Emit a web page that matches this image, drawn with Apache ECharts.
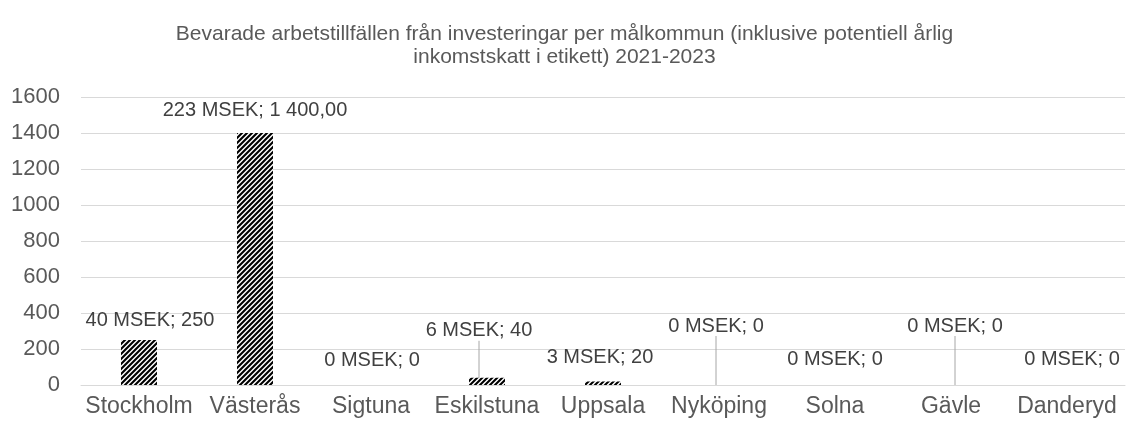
<!DOCTYPE html>
<html>
<head>
<meta charset="utf-8">
<script src="https://cdn.jsdelivr.net/npm/echarts@6/dist/echarts.min.js"></script>
<style>
  html, body { margin: 0; padding: 0; background: #fff; }
  #chart { width: 1129px; height: 426px; }
</style>
</head>
<body>
<div id="chart"></div>
<script>
const categories = ['Stockholm', 'Västerås', 'Sigtuna', 'Eskilstuna', 'Uppsala', 'Nyköping', 'Solna', 'Gävle', 'Danderyd']
const jobs = [250, 1400, 0, 40, 20, 0, 0, 0, 0]
const msek = [40, 223, 0, 6, 3, 0, 0, 0, 0]
const jobLabels = ['250', '1 400,00', '0', '40', '20', '0', '0', '0', '0']

// label nudges (dx, dy) and which labels get a leader line
const labelShift = [[11, -5], [0, -8], [1, -10], [-8, -32], [-3, -9], [-3, -44], [0, -11], [4, -44], [5, -11]]
const withLine = [false, false, false, true, false, true, false, true, false]

function hatch() {
    const c = document.createElement('canvas')
    c.width = 5
    c.height = 5
    const ctx = c.getContext('2d')
    ctx.fillStyle = '#fff'
    ctx.fillRect(0, 0, 5, 5)
    ctx.strokeStyle = '#000'
    ctx.lineWidth = 2.1
    ctx.beginPath()
    ctx.moveTo(-1, 6); ctx.lineTo(6, -1)
    ctx.moveTo(-2, 2); ctx.lineTo(2, -2)
    ctx.moveTo(3, 7); ctx.lineTo(7, 3)
    ctx.stroke()
    return c
}

const chart = echarts.init(document.getElementById('chart'))
const font = 'Liberation Sans, Arial, sans-serif'

chart.setOption({
    animation: false,
    title: {
        text: 'Bevarade arbetstillfällen från investeringar per målkommun (inklusive potentiell årlig\ninkomstskatt i etikett) 2021-2023',
        left: 'center',
        top: 18,
        textStyle: { fontFamily: font, fontSize: 21, fontWeight: 'normal', color: '#595959', lineHeight: 23, align: 'center' },
    },
    grid: { left: 81, right: 4, top: 97, bottom: 41 },
    xAxis: {
        type: 'category',
        data: categories,
        axisTick: { show: false },
        axisLine: { lineStyle: { color: '#d9d9d9' } },
        axisLabel: { fontFamily: font, fontSize: 23, color: '#595959', margin: 10, interval: 0 },
    },
    yAxis: {
        type: 'value',
        min: 0,
        max: 1600,
        interval: 200,
        axisLabel: { fontFamily: font, fontSize: 22, color: '#595959', margin: 21, formatter: v => String(v) },
        splitLine: { lineStyle: { color: '#d9d9d9' } },
    },
    series: [{
        type: 'bar',
        barWidth: 36,
        itemStyle: { color: { image: hatch(), repeat: 'repeat' } },
        data: jobs.map((v, i) => ({
            value: v,
            labelLine: { show: withLine[i] },
        })),
        label: {
            show: true,
            position: 'top',
            fontFamily: font,
            fontSize: 20,
            color: '#404040',
            formatter: p => msek[p.dataIndex] + ' MSEK; ' + jobLabels[p.dataIndex],
        },
        labelLine: { show: true, lineStyle: { color: '#a6a6a6', width: 1 } },
        labelLayout: p => ({ dx: labelShift[p.dataIndex][0], dy: labelShift[p.dataIndex][1] }),
    }],
})
</script>
</body>
</html>
